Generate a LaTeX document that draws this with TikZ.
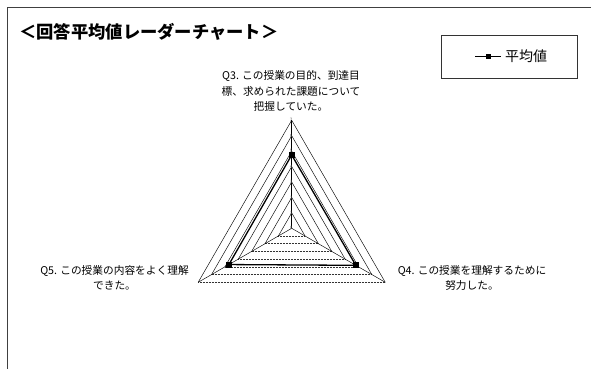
\documentclass[tikz,border=0pt]{standalone}
\usepackage{fontspec}
\newfontfamily\jp{Noto Sans CJK JP}
\begin{document}
\begin{tikzpicture}[x=1pt,y=1pt,
  gridside/.style={draw=black,line width=0.45pt},
  gridbase/.style={draw=black!80,line width=0.7pt,dash pattern=on 0.8pt off 0.7pt},
  dataline/.style={draw=black,line width=1.3pt},
  mk/.style={fill=black,draw=none,minimum size=6pt,inner sep=0pt,rectangle},
  qlabel/.style={font=\jp\fontsize{10.7}{15.5}\selectfont,align=center,inner sep=0pt},
  tick/.style={font=\jp\fontsize{4.5}{5}\selectfont,text=black!60,inner sep=0.3pt,anchor=east}]
\useasboundingbox (0,0) rectangle (591,369);
% frame
\coordinate (FB) at (7.5,0);
\coordinate (FC) at (7.5,361.5);
\coordinate (FR) at (591,361.5);
\draw[black!75,line width=0.9pt] (FB) -- (FC) -- (FR);
% title
\node[anchor=west,inner sep=0pt,font=\jp\bfseries\fontsize{17.3}{20}\selectfont] (title) at (19,337) {＜回答平均値レーダーチャート＞};
% legend
\node[draw=black!80,line width=0.8pt,minimum width=136pt,minimum height=43pt,inner sep=0pt] (legend) at (509,312) {};
\coordinate (LA) at (475,312.5);
\coordinate (LB) at (501,312.5);
\draw[line width=1.2pt] (LA) -- (LB);
\node[mk,minimum size=5pt] (lm) at (488,312.5) {};
\node[anchor=west,inner sep=0pt,font=\jp\fontsize{14}{16}\selectfont] (legtext) at (505,312.5) {平均値};
% radar
\begin{scope}[shift={(291.7,140.7)}]
\coordinate (O) at (0,0);
\foreach \k in {1,...,7}{
  \pgfmathsetmacro{\r}{108*\k/7}
  \coordinate (T\k) at (90:\r);
  \coordinate (R\k) at (-30:\r);
  \coordinate (L\k) at (210:\r);
  \draw[gridside] (L\k) -- (T\k) -- (R\k);
  \draw[gridbase] (L\k) -- (R\k);
}
\draw[line width=0.45pt] (O) -- (L7);
\draw[line width=0.45pt] (O) -- (R7);
\draw[line width=1.1pt] (O) -- (T7);
\foreach \k in {0,...,7}{
  \node[tick] (tk\k) at (1.2,{108*\k/7}) {\k};
}
\coordinate (D3) at (90:{108*4.75/7});
\coordinate (D4) at (-30:{108*4.8/7});
\coordinate (D5) at (210:{108*4.7/7});
\draw[dataline] (D3) -- (D4) -- (D5) -- cycle;
\node[mk] (m3) at (D3) {};
\node[mk] (m4) at (D4) {};
\node[mk] (m5) at (D5) {};
\end{scope}
% labels
\node[qlabel] (q3) at (291,278) {Q3. この授業の目的、到達目\\標、求められた課題について\\把握していた。};
\node[qlabel] (q5) at (114.5,91) {Q5. この授業の内容をよく理解\\できた。};
\node[qlabel] (q4) at (472,91) {Q4. この授業を理解するために\\努力した。};
\end{tikzpicture}
\end{document}
